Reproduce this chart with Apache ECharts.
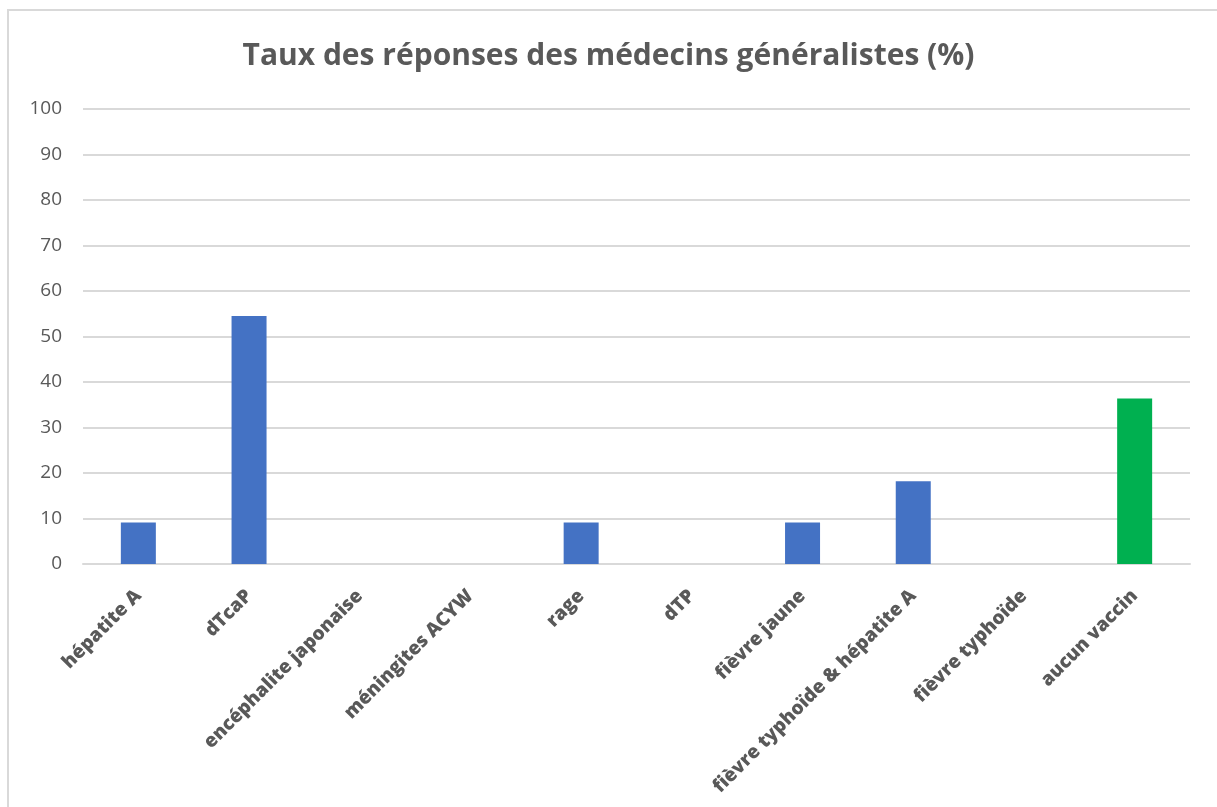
<!DOCTYPE html>
<html>
<head>
<meta charset="utf-8">
<script src="https://cdn.jsdelivr.net/npm/echarts@6/dist/echarts.min.js"></script>
<style>
  html, body { margin: 0; padding: 0; background: #fff; }
  #frame {
    position: absolute; left: 7px; top: 9px; width: 1220px; height: 820px;
    border: 2px solid #d9d9d9; box-sizing: border-box;
  }
  #chart { position: absolute; left: 0; top: 0; width: 1217px; height: 807px; }
</style>
</head>
<body>
<div id="frame"></div>
<div id="chart"></div>
<script>
// catégories de vaccins
var categories = [
  "hépatite A",
  "dTcaP",
  "encéphalite japonaise",
  "méningites ACYW",
  "rage",
  "dTP",
  "fièvre jaune",
  "fièvre typhoïde & hépatite A",
  "fièvre typhoïde",
  "aucun vaccin"
];
// taux en %
var values = [9.1, 54.5, 0, 0, 9.1, 0, 9.1, 18.2, 0, 36.4];
var yTicks = [0, 100, 10];

var blue = "#4472c4";
var green = "#00b050";

var data = [];
for (var i = 0; i < values.length; i++) {
  data.push({
    value: values[i],
    itemStyle: { color: categories[i] === "aucun vaccin" ? green : blue }
  });
}

var myChart = echarts.init(document.getElementById("chart"));
var option = {
  backgroundColor: "transparent",
  animation: false,
  title: {
    text: "Taux des réponses des médecins généralistes (%)",
    left: "center",
    top: 36,
    textStyle: {
      fontFamily: "Open Sans",
      fontWeight: "bold",
      fontSize: 30,
      color: "#595959"
    }
  },
  grid: { left: 83, right: 27, top: 109, bottom: 243 },
  xAxis: {
    type: "category",
    data: categories,
    axisLine: { lineStyle: { color: "#d9d9d9", width: 2 } },
    axisTick: { show: false },
    axisLabel: {
      rotate: 45,
      interval: 0,
      margin: 29,
      color: "#595959",
      fontFamily: "Open Sans",
      fontWeight: 800,
      fontSize: 19
    }
  },
  yAxis: {
    type: "value",
    min: yTicks[0],
    max: yTicks[1],
    interval: yTicks[2],
    axisLine: { show: false },
    axisTick: { show: false },
    splitLine: { lineStyle: { color: "#d9d9d9", width: 2 } },
    axisLabel: {
      margin: 21,
      color: "#595959",
      fontFamily: "Open Sans",
      fontSize: 19
    }
  },
  series: [
    {
      type: "bar",
      data: data,
      barWidth: 35
    }
  ]
};
myChart.setOption(option);
</script>
</body>
</html>
